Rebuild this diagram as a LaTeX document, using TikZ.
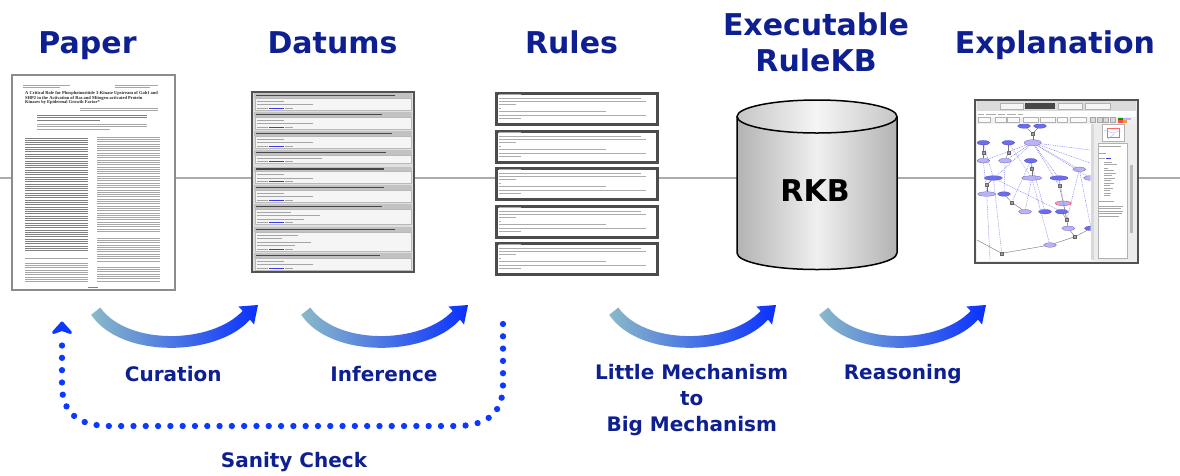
\documentclass[tikz,border=0pt]{standalone}
\usepackage{fontspec}
\setmainfont{DejaVu Sans}
\newfontfamily\thumbserif{Liberation Serif}
\usetikzlibrary{shapes.geometric}
\definecolor{navy}{RGB}{14,32,145}
\definecolor{arcA}{RGB}{138,186,200}
\definecolor{arcB}{RGB}{10,48,255}
\definecolor{dotblue}{RGB}{12,56,255}
\definecolor{gdarkc}{RGB}{108,108,240}
\definecolor{glitec}{RGB}{186,178,242}
\definecolor{glink}{RGB}{60,60,230}
\begin{document}
\begin{tikzpicture}[x=1pt,y=-1pt,
  title/.style={text=navy, font=\fontsize{30}{36}\selectfont\bfseries, anchor=base, inner sep=0},
  lab/.style={text=navy, font=\fontsize{20}{26}\selectfont\bfseries, anchor=base, inner sep=0},
  thumbframe/.style={draw=black!62, line width=2pt, inner sep=0},
  txt/.style={gray!70, line width=0.8pt},
  txtd/.style={black!50, line width=0.85pt},
  sanity/.style={draw=dotblue, line width=6.3pt, line cap=round, dash pattern=on 0pt off 12.3pt},
  gdark/.style={ellipse, fill=gdarkc, draw=gdarkc!70!black, line width=0.25pt, minimum width=13pt, minimum height=4.5pt, inner sep=0},
  glite/.style={ellipse, fill=glitec, draw=gdarkc!80!black, line width=0.25pt, minimum width=13pt, minimum height=4.5pt, inner sep=0},
  gsq/.style={rectangle, fill=gray!75, draw=black!60, line width=0.2pt, minimum size=3pt, inner sep=0},
  gedge/.style={black!55, line width=0.4pt},
  gdot/.style={gdarkc!85, line width=0.5pt, dash pattern=on 0.9pt off 0.9pt},
]
\useasboundingbox (0,0) rectangle (1180,475);
\fill[white] (0,0) rectangle (1180,475);

% horizontal gray line
\coordinate (hl) at (0,178);
\coordinate (hr) at (1180,178);
\draw[gray!65, line width=2pt] (hl) -- (hr);

% ---------- titles ----------
\node[title] (tpaper) at (87.5,53) {Paper};
\node[title] (tdatums) at (332.5,53) {Datums};
\node[title] (trules) at (571.5,53) {Rules};
\node[title] (texec) at (816,35) {Executable};
\node[title] (trkb) at (816,71) {RuleKB};
\node[title] (texpl) at (1055,53) {Explanation};

% ---------- Paper thumbnail ----------
\node[thumbframe, fill=white, draw=black!45, line width=2.2pt, minimum width=163pt, minimum height=215pt] (paper) at (93.5,182.5) {};
\draw[txt, line width=0.6pt] (23,85) -- (70,85) (23,87.3) -- (60,87.3) (115,85) -- (158,85) (115,87.3) -- (150,87.3);
\node[anchor=north west, inner sep=0, align=left, text=black!85,
  font=\thumbserif\bfseries\fontsize{4.5}{4.4}\selectfont] (ptitle) at (25,91.5)
  {A Critical Role for Phosphoinositide 3-Kinase Upstream of Gab1 and\\SHP2 in the Activation of Ras and Mitogen-activated Protein\\Kinases by Epidermal Growth Factor*};
\draw[txt, line width=0.6pt] (80,108) -- (158,108) (80,110.5) -- (158,110.5);
\draw[txtd] (37,115) -- (147,115) (37,117.5) -- (147,117.5) (37,120) -- (100,120);
\draw[txt, line width=0.6pt] (37,124) -- (147,124) (37,126.5) -- (147,126.5) (37,129) -- (110,129);
\foreach \y in {138,140.3,...,252} {\draw[txtd] (25,\y) -- (88,\y);}
\draw[txt] (25,258) -- (88,258);
\foreach \y in {263,265.3,...,283} {\draw[txt, line width=0.55pt] (25,\y) -- (88,\y);}
\foreach \y in {137,139.3,...,232} {\draw[txt] (97,\y) -- (160,\y);}
\foreach \y in {238,240.3,...,262} {\draw[txt] (97,\y) -- (160,\y);}
\foreach \y in {267,269.3,...,283} {\draw[txt, line width=0.55pt] (97,\y) -- (160,\y);}
\draw[txtd, line width=0.7pt] (88,287) -- (98,287);

% ---------- Datums thumbnail ----------
\node[thumbframe, fill=gray!25, draw=black!68, line width=2.4pt, minimum width=162pt, minimum height=180pt] (datums) at (333,182) {};
\foreach \t/\n/\h in {93/3/395,112/3/382,131/3/392,150/2/386,166.5/3/384,185/3/384,204/4/382,227/5/395,253/3/380} {
  \pgfmathsetmacro\hb{\t+5}
  \pgfmathsetmacro\bb{\t+5+\n*3.5+1.5}
  \fill[gray!48] (254,\t) rectangle (412,\hb);
  \draw[black!72, line width=1.6pt] (256,\t+2.5) -- (\h,\t+2.5);
  \filldraw[fill=gray!8, draw=gray!55, line width=0.4pt] (255,\hb) rectangle (411,\bb);
  \foreach \k in {1,...,\n} {
    \pgfmathsetmacro\yy{\hb+\k*3.5-0.6}
    \pgfmathsetmacro\len{int(22+mod(\k*29+\n*7,45))}
    \ifnum\k=\n
      \draw[txt] (257,\yy) -- ++(11,0);
      \draw[glink, line width=0.8pt] (269,\yy) -- ++(15,0);
      \draw[txt] (285,\yy) -- ++(8,0);
    \else
      \draw[txt] (257,\yy) -- ++(\len,0);
    \fi
  }
}

% ---------- Rules thumbnails ----------
\foreach \t [count=\i] in {92,130,167,205,242} {
  \node[thumbframe, fill=white, draw=black!70, line width=2.8pt, minimum width=161pt, minimum height=31pt, anchor=north west] (rule\i) at (495,\t) {};
  \draw[gray!65, line width=0.6pt] (499,\t+2.5) -- ++(22,0)
    (499,\t+5.8) -- (641,\t+5.8) (499,\t+9.2) -- (646,\t+9.2) (499,\t+12.6) -- (516,\t+12.6)
    (499,\t+16) -- (501,\t+16)
    (499,\t+19.5) -- (606,\t+19.5) (499,\t+22.9) -- (646,\t+22.9) (499,\t+26.3) -- (521,\t+26.3);
}

% ---------- Cylinder RKB ----------
\shade[left color=gray!60, right color=gray!60, middle color=gray!12]
  (737,116.5) -- (737,253) arc[start angle=180, end angle=0, x radius=80, y radius=16.5]
  -- (897,116.5) arc[start angle=0, end angle=180, x radius=80, y radius=16.5] -- cycle;
\draw[black, line width=1.5pt]
  (737,116.5) -- (737,253) arc[start angle=180, end angle=0, x radius=80, y radius=16.5]
  -- (897,116.5);
\shade[left color=gray!45, right color=gray!45, middle color=gray!8, draw=black, line width=1.5pt]
  (817,116.5) ellipse[x radius=80, y radius=16.5];
\node[font=\fontsize{30}{30}\selectfont\bfseries, anchor=base, inner sep=0] (rkb) at (815,201.5) {RKB};

% ---------- Explanation thumbnail ----------
\node[thumbframe, fill=gray!15, draw=black!68, line width=2.4pt, minimum width=163pt, minimum height=163pt] (expl) at (1056.5,181.5) {};
\fill[gray!28] (977,101) rectangle (1136,111);
\foreach \a/\b in {1000/1023,1058/1082,1085/1110} {\filldraw[fill=gray!8, draw=gray!60, line width=0.3pt] (\a,103) rectangle (\b,109);}
\fill[black!72] (1025,103) rectangle (1055,109);
\fill[white] (977,111) rectangle (1136,116.5);
\draw[gray!65, line width=0.5pt] (978,114) -- (984,114) (986,114) -- (996,114) (998,114) -- (1005,114) (1007,114) -- (1016,114) (1018,114) -- (1023,114);
\fill[gray!12] (977,116.5) rectangle (1136,123.5);
\foreach \a/\b in {978/990,995/1006,1007/1019,1023/1038,1040/1055,1057/1067,1070/1086} {\filldraw[fill=gray!4, draw=gray!60, line width=0.3pt] (\a,117.5) rectangle (\b,122.5);}
\foreach \a in {1090,1097,1103,1110} {\filldraw[fill=gray!30, draw=gray!70, line width=0.3pt] (\a,117.5) rectangle ++(5,5);}
\fill[green!60!black] (1118,117.5) rectangle (1123,120);
\fill[glitec] (1123,117.5) rectangle (1131,120);
\fill[red!70] (1118,120) rectangle (1123,122.5);
\fill[orange!80] (1123,120) rectangle (1127,122.5);
\fill[white] (977,123.5) rectangle (1093,261);
\fill[gray!30] (1091,124) rectangle (1094,260);
\fill[gray!15] (1095,123.5) rectangle (1136,261);
\filldraw[fill=white, draw=gray!60, line width=0.3pt] (1102,124.5) rectangle (1124,141);
\draw[red!60, line width=0.4pt] (1107,128) -- (1119,128) -- (1119,137) -- (1107,137) -- cycle;
\draw[gdarkc!60, line width=0.3pt] (1104,130) -- (1112,133) -- (1121,131) (1108,139) -- (1114,134);
\filldraw[fill=white, draw=gray!60, line width=0.3pt] (1098,143.5) rectangle (1127,258);
\fill[gray!55] (1130,165) rectangle (1133,233);
\draw[gray!70, line width=0.5pt] (1099,146) -- (1121,146) (1099,153) -- (1106,153) (1099,158) -- (1105,158);
\draw[glink, line width=0.5pt] (1106,158) -- (1111,158);
\foreach \y/\l in {162/8,164.5/13,168/4,170.5/10,173/12,175.5/8,178/11,180.5/7,183/10,185.5/6,188/9,190.5/6,193/7,195.5/6} {\draw[gray!70, line width=0.5pt] (1104,\y) -- ++(\l,0);}
\draw[gray!70, line width=0.5pt] (1099,201) -- (1114,201);
\foreach \y/\l in {206/24,208.5/22,211/24,213.5/23,216/20} {\draw[gray!70, line width=0.5pt] (1099,\y) -- ++(\l,0);}
\begin{scope}
\clip (977,124) rectangle (1090.5,260);
\node[gdark] (g1) at (1024,126) {};
\node[gdark] (g2) at (1040,126) {};
\node[glite, minimum width=17pt, minimum height=6pt] (g3) at (1032.7,142.7) {};
\node[gdark] (g4) at (983.3,142.7) {};
\node[gdark] (g5) at (1008.3,142.7) {};
\node[glite] (g6) at (983.3,160.7) {};
\node[glite] (g7) at (1005,160.7) {};
\node[gdark] (g8) at (1030.7,160.7) {};
\node[glite] (g9) at (1079.3,169.3) {};
\node[gdark, minimum width=18pt] (g10) at (993.3,178) {};
\node[glite, minimum width=20pt] (g11) at (1031.7,178) {};
\node[gdark, minimum width=18pt] (g12) at (1059,178) {};
\node[glite] (g13) at (1090,178) {};
\node[glite, minimum width=18pt] (g14) at (986.7,194) {};
\node[gdark] (g15) at (1004,194) {};
\node[glite, draw=red!70, line width=0.5pt, minimum width=16pt] (g16) at (1063.3,203.3) {};
\node[glite] (g17) at (1025,211.7) {};
\node[gdark] (g18) at (1045,211.7) {};
\node[gdark] (g19) at (1061.7,211.7) {};
\node[glite] (g20) at (1068.3,228.3) {};
\node[gdark] (g21) at (1091,228.3) {};
\node[glite] (g22) at (1050,245) {};
\node[gsq] (s1) at (1032.7,133.3) {};
\node[gsq] (s2) at (983.3,152.3) {};
\node[gsq] (s3) at (1008.3,152.3) {};
\node[gsq] (s4) at (1031.7,169) {};
\node[gsq] (s5) at (986.7,185) {};
\node[gsq] (s6) at (1059.3,185.7) {};
\node[gsq] (s7) at (1011.7,202.3) {};
\node[gsq] (s8) at (1066.7,220) {};
\node[gsq] (s9) at (1075,236.7) {};
\node[gsq] (s10) at (1001.7,253.3) {};
\coordinate (gfree) at (977,240);
\coordinate (gfree2) at (990,260);
\coordinate (gfree3) at (1090,150);
\coordinate (gfree4) at (1090,163);
\foreach \a/\b in {g3/g9,g3/g6,g3/g7,g3/g12,g3/g13,g3/s5,g8/s7,g11/g17,g9/g21,g6/g14,g3/s6,g10/s10,g12/g20,g4/g10,g5/g11,g3/gfree3,g3/gfree4,g10/g19,g14/gfree2,g7/g15,g8/g18,g11/g22,g9/s8} {\draw[gdot] (\a) -- (\b);}
\foreach \a/\b in {g1/s1,g2/s1,s1/g3,g4/s2,s2/g6,g5/s3,s3/g7,g8/s4,s4/g11,g10/s5,s5/g14,g12/s6,s6/g16,g15/s7,s7/g17,g16/s8,g19/s8,s8/g20,g20/s9,g21/s9,s9/g22,g22/s10,gfree/s10} {\draw[gedge] (\a) -- (\b);}
\end{scope}

% ---------- gradient arcs ----------
\foreach \s in {0,210,518,728} {
  \begin{scope}[xshift=\s pt]
  \shade[left color=arcA, right color=arcB]
    (91.2,314.8) .. controls (121,359) and (217,357) .. (250,319.6)
    -- (254,324.5) -- (258,305) -- (238.5,306.5) -- (242.6,310.9)
    .. controls (212,344) and (128,346) .. (100.3,307.6) -- cycle;
  \end{scope}
}

% ---------- labels ----------
\node[lab] (lcur) at (173.3,381) {Curation};
\node[lab] (linf) at (384,381) {Inference};
\node[lab] (llm1) at (691.7,379.3) {Little Mechanism};
\node[lab] (llm2) at (691.7,405.7) {to};
\node[lab] (llm3) at (691.7,431.5) {Big Mechanism};
\node[lab] (lrea) at (902.7,379.3) {Reasoning};
\node[lab] (lsan) at (294,467.5) {Sanity Check};

% ---------- sanity check dotted loop ----------
\coordinate (sc0) at (503,324);
\coordinate (sc1) at (62,343);
\draw[sanity] (sc0) -- (503,385) .. controls (503,415) and (485,426) .. (455,426)
  -- (110,426) .. controls (75,426) and (62,410) .. (62,385) -- (sc1);
\filldraw[dotblue, line width=3pt, line join=round] (62,323) -- (70.5,332.5) -- (62,329.5) -- (53.5,332.5) -- cycle;
\end{tikzpicture}
\end{document}
